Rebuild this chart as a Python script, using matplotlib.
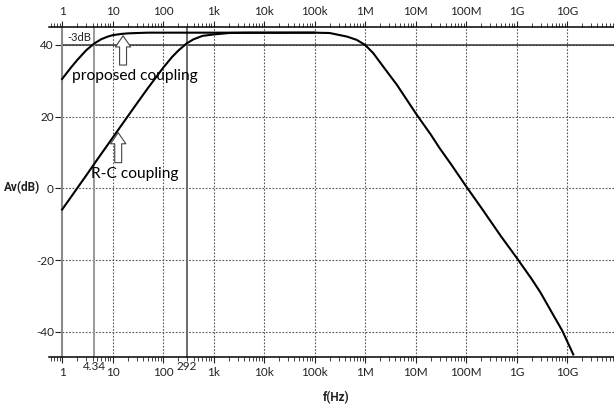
import matplotlib
matplotlib.use('Agg')
import matplotlib.pyplot as plt
import matplotlib.transforms as mtransforms
from matplotlib.ticker import LogLocator, FixedLocator, NullFormatter

plt.rcParams['font.family'] = ['Lato', 'DejaVu Sans']
plt.rcParams['axes.unicode_minus'] = False

# proposed coupling
f_prop = [1, 1.5, 2, 3, 4.34, 6, 8, 10, 15, 20, 30, 50, 1e3, 1e5, 2e5, 4.4e5, 6.8e5,
          1e6, 1.45e6, 2.3e6, 4.3e6, 1e7, 2e7, 3e7, 5e7, 1e8, 2e8, 5e8, 1e9, 2e9, 3e9,
          5e9, 8e9, 1.33e10]
av_prop = [30.5, 33.7, 35.8, 38.5, 40.4, 41.6, 42.3, 42.7, 43.05, 43.2, 43.3, 43.4, 43.4,
           43.4, 43.3, 42.3, 41.4, 40.0, 37.7, 33.9, 28.8, 21.0, 15.0, 11.2, 6.8,
           0.6, -5.4, -13.5, -19.3, -25.3, -29.1, -34.6, -39.6, -46.3]

# R-C coupling
f_rc = [1, 1.5, 2, 3, 5, 10, 20, 30, 50, 100, 150, 200, 292, 400, 600, 1000, 2000,
        5000, 1e5]
av_rc = [-5.9, -2.4, 0.1, 3.6, 8.1, 14.1, 20.1, 23.6, 27.95, 33.6, 36.6, 38.4, 40.4,
         41.55, 42.5, 42.9, 43.3, 43.38, 43.4]

decades = [1, 10, 100, 1e3, 1e4, 1e5, 1e6, 1e7, 1e8, 1e9, 1e10]
dec_labels = ['1', '10', '100', '1k', '10k', '100k', '1M', '10M', '100M', '1G', '10G']
y_ticks = [-40, -20, 0, 20, 40]
f_low_prop = 4.34
f_low_rc = 292
db3_level = 40.1

fig = plt.figure(figsize=(6.14, 4.08), dpi=100)
ax = fig.add_axes([0.0798, 0.125, 0.9202, 0.809])
ax.set_xscale('log')
ax.set_xlim(10 ** -0.26, 10 ** 10.93)
ax.set_ylim(-47, 45)

ax.spines['right'].set_visible(False)
ax.spines['left'].set_position(('data', 1))
ax.spines['left'].set_color('#8a8a8a')
ax.spines['left'].set_linewidth(1.5)
ax.spines['top'].set_linewidth(1.1)
ax.spines['bottom'].set_linewidth(1.1)

ax.xaxis.set_major_locator(FixedLocator(decades))
ax.set_xticklabels(dec_labels)
ax.xaxis.set_minor_locator(LogLocator(base=10, subs=range(2, 10), numticks=30))
ax.xaxis.set_minor_formatter(NullFormatter())
ax.tick_params(axis='x', which='both', top=True, labeltop=True, direction='out',
               labelsize=8.5, colors='#222222')
ax.tick_params(axis='x', which='major', length=4, width=0.8, pad=3)
ax.tick_params(axis='x', which='minor', length=3, width=0.6)
ax.set_yticks(y_ticks)
ax.tick_params(axis='y', length=5, width=0.8, pad=1, labelsize=8.5, colors='#222222')

# grid
for d in decades[1:]:
    ax.axvline(d, color='#555555', lw=0.8, ls=(0, (1.5, 1.5)), zorder=1)
ax.hlines(y_ticks, 1, 10 ** 10.93, color='#555555', lw=0.8, ls=(0, (1.5, 1.5)), zorder=1)

# -3dB line and cutoff markers
ax.hlines(db3_level, 1, 10 ** 10.93, color='#333333', lw=1.1, zorder=2)
ax.axvline(f_low_prop, color='#9a9a9a', lw=1.4, zorder=2)
ax.axvline(f_low_rc, color='#6a6a6a', lw=1.4, zorder=2)

ax.plot(f_prop, av_prop, color='black', lw=1.5, zorder=3)
ax.plot(f_rc, av_rc, color='black', lw=1.5, zorder=3)

# labels
ax.text(1.25, 42.1, '-3dB', fontsize=8, color='#222222', va='center', ha='left')
ax.text(1.6, 31.3, 'proposed coupling', fontsize=11.2, color='black', va='center')
ax.text(3.7, 3.9, 'R-C coupling', fontsize=11.2, color='black', va='center')

arrow = dict(arrowstyle='simple,head_length=0.8,head_width=1.1,tail_width=0.5',
             fc='white', ec='#444444', lw=0.8)
ax.annotate('', xy=(16.1, 43.3), xytext=(16.1, 33.6), arrowprops=arrow, zorder=4)
ax.annotate('', xy=(12.9, 16.3), xytext=(12.9, 6.4), arrowprops=arrow, zorder=4)

trans = mtransforms.blended_transform_factory(ax.transData, ax.transAxes)
ax.text(f_low_prop, -0.012, '4.34', transform=trans, ha='center', va='top',
        fontsize=8.5, color='#222222')
ax.text(f_low_rc, -0.012, '292', transform=trans, ha='center', va='top',
        fontsize=8.5, color='#222222')

fig.text(22 / 614, 1 - 188 / 408, 'Av(dB)', fontsize=8.5, fontweight='bold',
         family='Roboto', ha='center', va='center', color='#222222')
fig.text(336 / 614, 1 - 398 / 408, 'f(Hz)', fontsize=8.5, fontweight='bold',
         family='Roboto', ha='center', va='center', color='#222222')

fig.savefig('out.png', dpi=100)
